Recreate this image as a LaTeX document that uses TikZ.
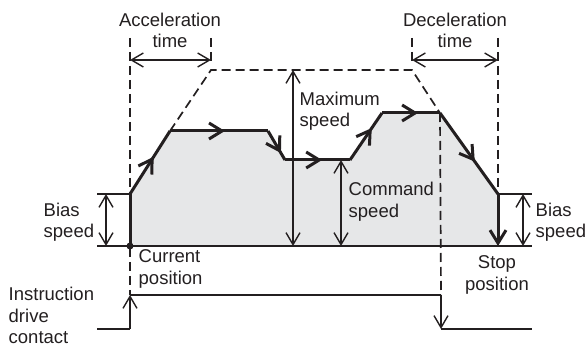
\documentclass[tikz,border=0pt]{standalone}
\usepackage{fontspec}
\setmainfont{Liberation Sans}
\usetikzlibrary{arrows.meta, positioning, decorations.markings}
\definecolor{ink}{HTML}{231F20}
\definecolor{area}{HTML}{E6E7E8}

\begin{document}
\begin{tikzpicture}[x=1pt, y=-1pt, >={Straight Barb[length=12pt, width=14pt]}, line width=1.4pt, color=ink,
  every node/.style={inner sep=0pt, font=\fontsize{18.5}{21.5}\selectfont},
  dashline/.style={line width=1.7pt, dash pattern=on 9pt off 5pt},
  profile/.style={line width=3pt, line join=miter},
  midarrow/.style={postaction={decorate, decoration={markings,
      mark=at position #1 with {\arrow{Straight Barb[length=13pt, width=16pt]}}}}}]

  \useasboundingbox (0,0) rectangle (586,347);

  % Coordinates
  \coordinate (o)  at (130,246);
  \coordinate (b1) at (130,194);
  \coordinate (p1) at (170,131);
  \coordinate (p2) at (268,131);
  \coordinate (p3) at (285,160);
  \coordinate (p4) at (350,160);
  \coordinate (p5) at (382,113);
  \coordinate (p6) at (440,113);
  \coordinate (b2) at (498,194);
  \coordinate (e)  at (498,246);
  \coordinate (ta) at (211,70);
  \coordinate (td) at (412,70);

  % Speed area
  \fill[area] (o) -- (b1) -- (p1) -- (p2) -- (p3) -- (p4) -- (p5) -- (p6) -- (b2) -- (e) -- cycle;

  % Dashed guides
  \draw[dashline] (130,38) -- (130,295);
  \draw[dashline] (211,38) -- (211,62);
  \draw[dashline] (412,38) -- (412,62);
  \draw[dashline] (498,38) -- (498,187);
  \draw[dashline] (p6) -- (441,295);
  \draw[dashline] (p1) -- (ta) -- (td) -- (p6);

  % Base and bias lines
  \draw (97,246) -- (532,246);
  \draw (97,194) -- (b1);
  \draw (b2) -- (532,194);

  % Speed profile
  \draw[profile] (o) -- (b1);
  \draw[profile, midarrow=0.59] (b1) -- (p1);
  \draw[profile, midarrow=0.56] (p1) -- (p2);
  \draw[profile, midarrow=0.76] (p2) -- (p3);
  \draw[profile, midarrow=0.57] (p3) -- (p4);
  \draw[profile, midarrow=0.68] (p4) -- (p5);
  \draw[profile, midarrow=0.62] (p5) -- (p6);
  \draw[profile, midarrow=0.60] (p6) -- (b2);
  \draw[profile, -{Straight Barb[length=13pt, width=16pt]}] (b2) -- (e);
  \fill (o) circle (3.5pt);

  % Dimension arrows
  \draw[<->] (130,60) -- (211,60);
  \draw[<->] (412,60) -- (498,60);
  \draw[<->] (293,70) -- (293,246);
  \draw[<->] (341,160) -- (341,246);
  \draw[<->] (106,194) -- (106,246);
  \draw[<->] (523,194) -- (523,246);

  % Instruction drive contact
  \draw (97,329) -- (130,329);
  \draw[->] (130,329) -- (130,295);
  \draw (130,295) -- (441,295);
  \draw[->] (441,295) -- (441,329);
  \draw (441,329) -- (532,329);

  % Labels
  \node (acc)   [align=center] at (170,30.5) {Acceleration\\time};
  \node (dec)   [align=center] at (455,30.5) {Deceleration\\time};
  \node (maxs)  [align=left, anchor=west] at (299,111) {Maximum\\speed};
  \node (cmds)  [align=left, anchor=west] at (348,201.5) {Command\\speed};
  \node (biasl) [align=left, anchor=west] at (43,222) {Bias\\speed};
  \node (biasr) [align=left, anchor=west] at (535,222) {Bias\\speed};
  \node (cur)   [align=left, anchor=west] at (138,269) {Current\\position};
  \node (stop)  [align=center] at (497,275) {Stop\\position};
  \node (inst)  [align=left, anchor=west] at (8,315.5) {Instruction\\drive\\contact};

\end{tikzpicture}
\end{document}
